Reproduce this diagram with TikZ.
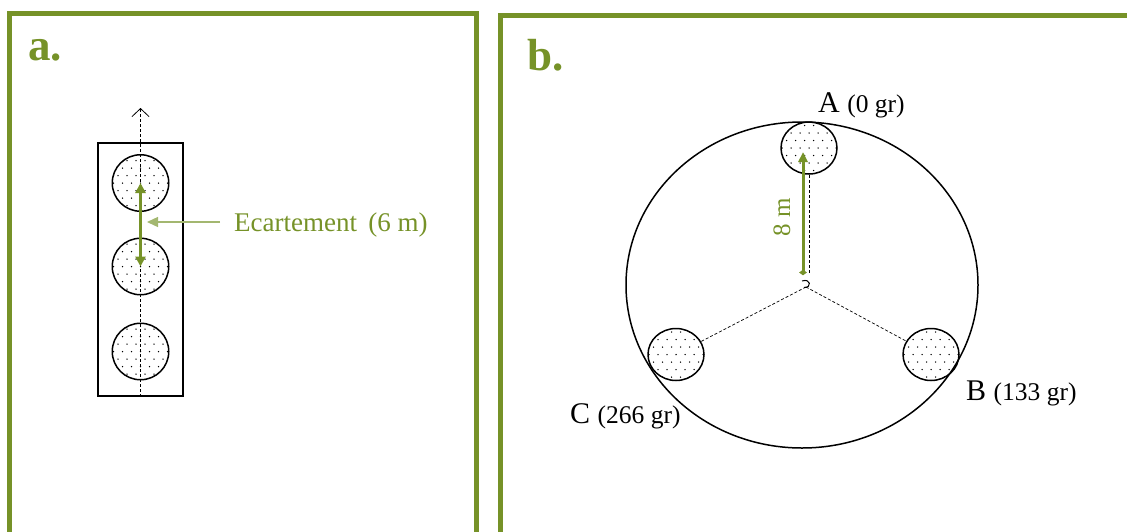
\documentclass[tikz,border=0pt]{standalone}
\usepackage{fontspec}
\setmainfont{Liberation Serif}
\usetikzlibrary{arrows.meta,shapes.geometric}
\definecolor{olv}{RGB}{118,146,40}
\definecolor{olvlight}{RGB}{163,183,112}
\tikzset{
  frameline/.style={draw=olv, line width=5pt},
  dotpat/.style={path picture={
      \foreach \j [evaluate=\j as \off using {mod(\j+10,2)*4.5}] in {-4,...,4}{
        \foreach \i in {-4,...,4}{
          \fill ([shift={(\i*9pt+\off*1pt, \j*7.5pt)}]path picture bounding box.center) circle (0.75pt);
        }}}},
  dotcirc/.style={circle, draw, line width=1.5pt, minimum size=56.5pt, inner sep=0pt, dotpat},
  dotell/.style={ellipse, draw, line width=1.5pt, minimum width=56pt, minimum height=52pt, inner sep=0pt, dotpat},
  guide/.style={dashed, dash pattern=on 3pt off 2pt, line width=0.7pt},
  panellabel/.style={anchor=base west, inner sep=0pt, text=olv, font=\fontsize{45}{45}\selectfont\bfseries},
  biglbl/.style={anchor=base west, inner sep=0pt, font=\fontsize{30}{30}\selectfont},
}
\newcommand{\smallgr}[1]{{\fontsize{25.5}{25.5}\selectfont #1}}
\begin{document}
\begin{tikzpicture}[x=1pt,y=-1pt]
\clip (0,0) rectangle (1127,531);
% frames
\draw[frameline] (9.5,545) -- (9.5,13) -- (476.5,13) -- (476.5,545);
\draw[frameline] (500,545) -- (500,15.5) -- (1140,15.5);
\node[panellabel] (pa) at (28,60) {a.};
\node[panellabel] (pb) at (527,70) {b.};

% panel a
\node[draw, line width=1.3pt, minimum width=85pt, minimum height=253pt, inner sep=0pt] (rect) at (140.5,269.5) {};
\node[dotcirc] (c1) at (140.5,183) {};
\node[dotcirc] (c2) at (140.5,266.5) {};
\node[dotcirc] (c3) at (140.5,351.5) {};
\coordinate (atop) at (140.5,108);
\draw[guide, -{Straight Barb[length=8pt,width=17pt,line width=0.8pt]}] (rect.south) -- (atop);
\draw[olv, line width=3.5pt, {Triangle[length=10pt,width=10pt]}-{Triangle[length=10pt,width=10pt]}] (c1.center) -- (c2.center);
\node[anchor=base west, inner sep=0pt, text=olv, font=\fontsize{27}{27}\selectfont] (ecart) at (234,231) {Ecartement\, (6 m)};
\coordinate (pstart) at (220,222);
\coordinate (pend) at (147,222);
\draw[olvlight, line width=1.3pt, -{Triangle[length=11pt,width=10pt]}] (pstart) -- (pend);

% panel b
\node[ellipse, draw, line width=1.5pt, minimum width=352pt, minimum height=326pt, inner sep=0pt] (big) at (802,285) {};
\node[dotell] (A) at (809,148) {};
\node[dotell] (B) at (931,354.5) {};
\node[dotell] (C) at (676,354.5) {};
\coordinate (O) at (806,287);
\coordinate (Ov) at (809,274);
\draw[guide] (O) -- (B);
\draw[guide] (O) -- (C);
\draw[guide] (A) -- (Ov);
\coordinate (g0) at (803,275);
\draw[olv, line width=3pt, {Circle[length=5pt,width=6pt]}-{Triangle[length=10pt,width=9pt]}] (g0) -- ([shift={(-6,4)}]A.center);
\draw[line width=1pt] (802,281) .. controls (811,278) and (812,288) .. (804,287.5);
\node[rotate=90, inner sep=0pt, text=olv, font=\fontsize{25}{25}\selectfont] (eight) at (782,217) {8 m};
\node[biglbl] (la) at (818,112) {A \smallgr{(0 gr)}};
\node[biglbl] (lb) at (966,400) {B \smallgr{(133 gr)}};
\node[biglbl] (lc) at (570,423) {C \smallgr{(266 gr)}};
\end{tikzpicture}
\end{document}
